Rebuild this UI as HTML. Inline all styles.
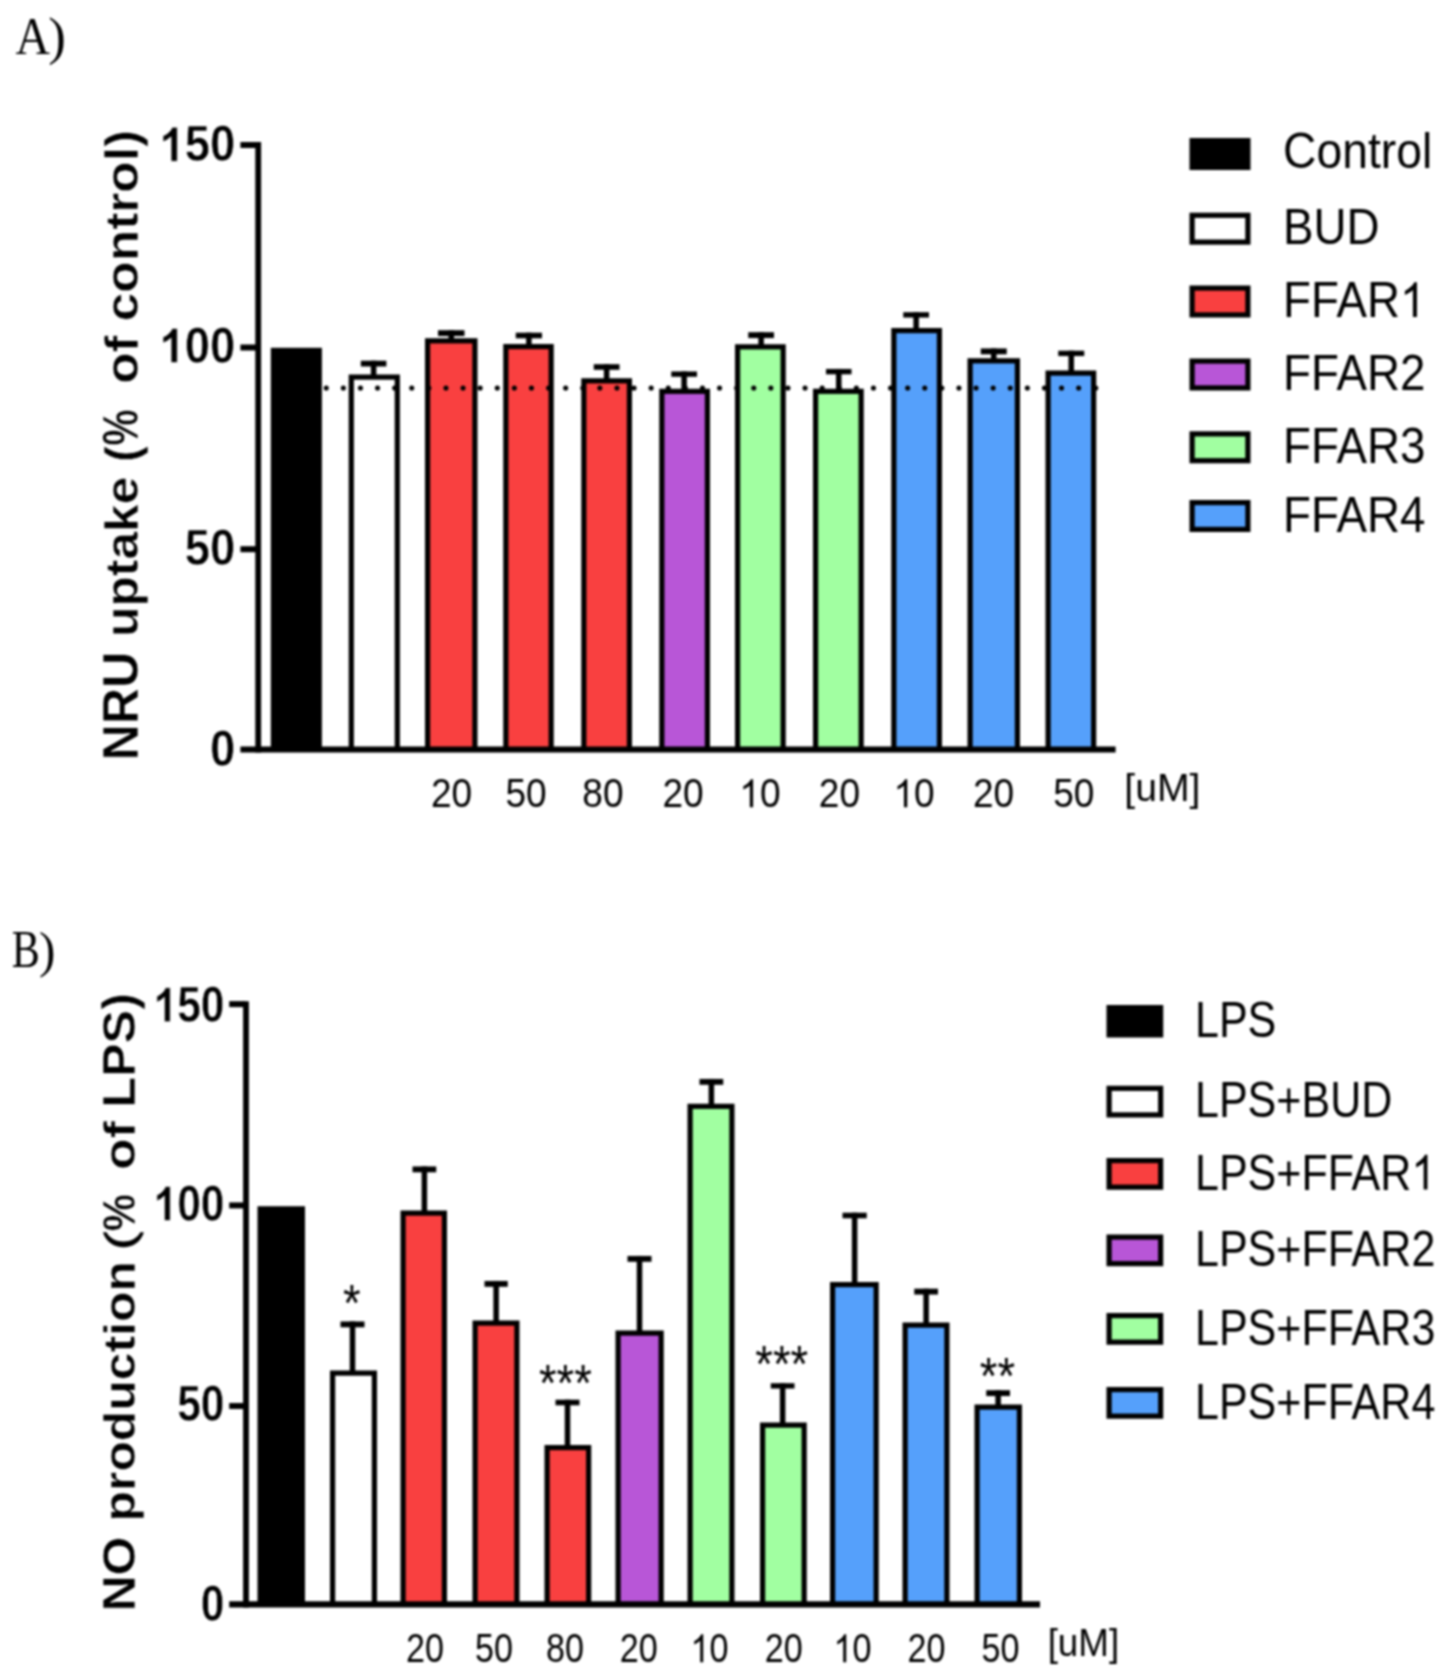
<!DOCTYPE html>
<html><head><meta charset="utf-8"><title>Figure</title>
<style>
html,body{margin:0;padding:0;background:#fff;}
body{width:1449px;height:1679px;overflow:hidden;font-family:"Liberation Sans",sans-serif;}
svg{display:block;}

</style></head><body>
<svg width="1449" height="1679" viewBox="0 0 1449 1679">
<rect width="1449" height="1679" style="fill:#fff"/>
<defs><clipPath id="ca"><rect x="0" y="0" width="1449" height="751"/></clipPath><clipPath id="cb"><rect x="0" y="900" width="1449" height="706"/></clipPath></defs>
<g style="filter:blur(0.85px)">
<g clip-path="url(#ca)">
<rect x="270.80" y="347.80" width="51.10" height="401.70" fill="#000"/>
<rect x="351.30" y="377.10" width="46.00" height="375.00" fill="#FFFFFF" stroke="#000" stroke-width="5.2"/>
<rect x="360.80" y="360.70" width="25.60" height="5.80" fill="#000"/><rect x="370.85" y="360.70" width="5.50" height="14.80" fill="#000"/>
<rect x="427.60" y="340.85" width="47.30" height="411.25" fill="#F94040" stroke="#000" stroke-width="5.2"/>
<rect x="438.00" y="330.20" width="26.50" height="5.85" fill="#000"/><rect x="448.50" y="330.20" width="5.50" height="9.05" fill="#000"/>
<rect x="505.85" y="346.60" width="45.30" height="405.50" fill="#F94040" stroke="#000" stroke-width="5.2"/>
<rect x="515.75" y="332.70" width="26.25" height="5.60" fill="#000"/><rect x="526.12" y="332.70" width="5.50" height="12.30" fill="#000"/>
<rect x="583.85" y="380.85" width="45.55" height="371.25" fill="#F94040" stroke="#000" stroke-width="5.2"/>
<rect x="593.75" y="364.20" width="25.75" height="5.60" fill="#000"/><rect x="603.88" y="364.20" width="5.50" height="15.05" fill="#000"/>
<rect x="661.85" y="391.35" width="45.55" height="360.75" fill="#B856D7" stroke="#000" stroke-width="5.2"/>
<rect x="671.25" y="371.45" width="25.75" height="5.35" fill="#000"/><rect x="681.38" y="371.45" width="5.50" height="18.30" fill="#000"/>
<rect x="737.60" y="346.85" width="45.55" height="405.25" fill="#A1FFA1" stroke="#000" stroke-width="5.2"/>
<rect x="748.25" y="332.20" width="25.75" height="5.85" fill="#000"/><rect x="758.38" y="332.20" width="5.50" height="13.05" fill="#000"/>
<rect x="815.60" y="391.35" width="45.55" height="360.75" fill="#A1FFA1" stroke="#000" stroke-width="5.2"/>
<rect x="826.00" y="368.95" width="25.50" height="5.35" fill="#000"/><rect x="836.00" y="368.95" width="5.50" height="20.80" fill="#000"/>
<rect x="893.85" y="330.60" width="45.55" height="421.50" fill="#55A0FB" stroke="#000" stroke-width="5.2"/>
<rect x="903.25" y="312.20" width="25.75" height="5.35" fill="#000"/><rect x="913.38" y="312.20" width="5.50" height="16.80" fill="#000"/>
<rect x="970.10" y="360.85" width="47.30" height="391.25" fill="#55A0FB" stroke="#000" stroke-width="5.2"/>
<rect x="980.75" y="348.45" width="26.00" height="5.85" fill="#000"/><rect x="991.00" y="348.45" width="5.50" height="10.80" fill="#000"/>
<rect x="1048.10" y="373.10" width="45.55" height="379.00" fill="#55A0FB" stroke="#000" stroke-width="5.2"/>
<rect x="1058.25" y="350.70" width="26.00" height="5.35" fill="#000"/><rect x="1068.50" y="350.70" width="5.50" height="20.80" fill="#000"/>
</g>
<line x1="326.25" y1="388" x2="1095.85" y2="388" stroke="#000" stroke-width="5.1" stroke-linecap="round" stroke-dasharray="0.01 17.09"/>
<rect x="255.3" y="142" width="5.8" height="610.5"/>
<rect x="240.4" y="746.5" width="875.2" height="6"/>
<rect x="240.4" y="142.00" width="17" height="6"/>
<rect x="240.4" y="344.50" width="17" height="6"/>
<rect x="240.4" y="546.20" width="17" height="6"/>
<rect x="1189.5" y="138" width="61" height="32"/>
<rect x="1192.10" y="215.30" width="55.80" height="26.80" fill="#FFFFFF" stroke="#000" stroke-width="5.2"/>
<rect x="1192.10" y="288.10" width="55.80" height="26.80" fill="#F94040" stroke="#000" stroke-width="5.2"/>
<rect x="1192.10" y="361.10" width="55.80" height="26.80" fill="#B856D7" stroke="#000" stroke-width="5.2"/>
<rect x="1192.10" y="433.90" width="55.80" height="26.80" fill="#A1FFA1" stroke="#000" stroke-width="5.2"/>
<rect x="1192.10" y="502.60" width="55.80" height="26.80" fill="#55A0FB" stroke="#000" stroke-width="5.2"/>
<g clip-path="url(#cb)">
<rect x="257.50" y="1206.25" width="47.50" height="398.15" fill="#000"/>
<rect x="332.60" y="1373.10" width="41.80" height="233.90" fill="#FFFFFF" stroke="#000" stroke-width="5.2"/>
<rect x="340.50" y="1321.45" width="24.00" height="5.85" fill="#000"/><rect x="349.75" y="1321.45" width="5.50" height="50.05" fill="#000"/>
<rect x="403.10" y="1213.10" width="41.30" height="393.90" fill="#F94040" stroke="#000" stroke-width="5.2"/>
<rect x="412.50" y="1166.45" width="23.75" height="5.85" fill="#000"/><rect x="421.62" y="1166.45" width="5.50" height="45.05" fill="#000"/>
<rect x="475.10" y="1323.10" width="41.80" height="283.90" fill="#F94040" stroke="#000" stroke-width="5.2"/>
<rect x="484.50" y="1280.95" width="23.25" height="5.85" fill="#000"/><rect x="493.38" y="1280.95" width="5.50" height="40.55" fill="#000"/>
<rect x="547.10" y="1447.60" width="41.55" height="159.40" fill="#F94040" stroke="#000" stroke-width="5.2"/>
<rect x="555.50" y="1399.70" width="24.00" height="5.60" fill="#000"/><rect x="564.75" y="1399.70" width="5.50" height="46.30" fill="#000"/>
<rect x="618.10" y="1333.10" width="43.05" height="273.90" fill="#B856D7" stroke="#000" stroke-width="5.2"/>
<rect x="627.50" y="1255.95" width="24.00" height="5.85" fill="#000"/><rect x="636.75" y="1255.95" width="5.50" height="75.55" fill="#000"/>
<rect x="690.10" y="1106.35" width="41.80" height="500.65" fill="#A1FFA1" stroke="#000" stroke-width="5.2"/>
<rect x="699.50" y="1078.95" width="23.75" height="5.85" fill="#000"/><rect x="708.62" y="1078.95" width="5.50" height="25.80" fill="#000"/>
<rect x="762.60" y="1425.10" width="41.55" height="181.90" fill="#A1FFA1" stroke="#000" stroke-width="5.2"/>
<rect x="770.75" y="1383.20" width="23.75" height="5.35" fill="#000"/><rect x="779.88" y="1383.20" width="5.50" height="40.30" fill="#000"/>
<rect x="832.60" y="1284.60" width="43.55" height="322.40" fill="#55A0FB" stroke="#000" stroke-width="5.2"/>
<rect x="842.50" y="1212.70" width="24.25" height="5.60" fill="#000"/><rect x="851.88" y="1212.70" width="5.50" height="70.30" fill="#000"/>
<rect x="905.10" y="1325.10" width="41.80" height="281.90" fill="#55A0FB" stroke="#000" stroke-width="5.2"/>
<rect x="914.25" y="1288.70" width="23.75" height="5.85" fill="#000"/><rect x="923.38" y="1288.70" width="5.50" height="34.80" fill="#000"/>
<rect x="977.10" y="1407.10" width="42.30" height="199.90" fill="#55A0FB" stroke="#000" stroke-width="5.2"/>
<rect x="986.25" y="1390.20" width="23.75" height="5.85" fill="#000"/><rect x="995.38" y="1390.20" width="5.50" height="15.30" fill="#000"/>
</g>
<rect x="243.1" y="1001.25" width="5.8" height="606.25"/>
<rect x="229.2" y="1601.25" width="810.8" height="6.25"/>
<rect x="229.2" y="1001.10" width="16" height="6"/>
<rect x="229.2" y="1202.40" width="16" height="6"/>
<rect x="229.2" y="1403.00" width="16" height="6"/>
<rect x="1106.5" y="1005" width="56.75" height="32.5"/>
<rect x="1109.10" y="1088.35" width="51.55" height="26.55" fill="#FFFFFF" stroke="#000" stroke-width="5.2"/>
<rect x="1109.10" y="1160.60" width="51.55" height="26.55" fill="#F94040" stroke="#000" stroke-width="5.2"/>
<rect x="1109.10" y="1237.10" width="51.55" height="26.55" fill="#B856D7" stroke="#000" stroke-width="5.2"/>
<rect x="1109.10" y="1315.60" width="51.55" height="26.55" fill="#A1FFA1" stroke="#000" stroke-width="5.2"/>
<rect x="1109.10" y="1389.60" width="51.55" height="26.55" fill="#55A0FB" stroke="#000" stroke-width="5.2"/>
</g>
<g style="filter:blur(1px)">
<text transform="translate(235.20,161.30) scale(0.9500,1.0300)" font-family="'Liberation Sans', sans-serif" font-size="47.8" font-weight="bold" text-anchor="end" stroke="#fff" stroke-width="0.6">50</text><path transform="translate(159.44,161.30) scale(0.02217,-0.02311)" d="M806 0H525V1059Q371 915 162 846V1101Q272 1137 401 1237.5Q530 1338 578 1472H806Z" stroke="#fff" stroke-width="27.1"/>
<text transform="translate(235.20,362.50) scale(0.9500,1.0300)" font-family="'Liberation Sans', sans-serif" font-size="47.8" font-weight="bold" text-anchor="end" stroke="#fff" stroke-width="0.6">00</text><path transform="translate(159.44,362.50) scale(0.02217,-0.02311)" d="M806 0H525V1059Q371 915 162 846V1101Q272 1137 401 1237.5Q530 1338 578 1472H806Z" stroke="#fff" stroke-width="27.1"/>
<text transform="translate(235.20,564.80) scale(0.9500,1.0300)" font-family="'Liberation Sans', sans-serif" font-size="47.8" font-weight="bold" text-anchor="end" stroke="#fff" stroke-width="0.6">50</text>
<text transform="translate(235.20,766.30) scale(0.9500,1.0300)" font-family="'Liberation Sans', sans-serif" font-size="47.8" font-weight="bold" text-anchor="end" stroke="#fff" stroke-width="0.6">0</text>
<text transform="translate(137.90,760.50) rotate(-90) scale(1.0040,1.0000)" font-family="'Liberation Sans', sans-serif" font-size="50" font-weight="bold" stroke="#fff" stroke-width="0.6">NRU</text>
<text transform="translate(137.90,637.00) rotate(-90) scale(0.9960,0.9400)" font-family="'Liberation Sans', sans-serif" font-size="50" font-weight="bold" stroke="#fff" stroke-width="0.6">uptake</text>
<text transform="translate(137.90,462.00) rotate(-90) scale(0.9600,0.9400)" font-family="'Liberation Sans', sans-serif" font-size="50" font-weight="bold" stroke="#fff" stroke-width="0.6">(</text>
<text transform="translate(137.90,445.80) rotate(-90) scale(0.8170,1.0000)" font-family="'Liberation Sans', sans-serif" font-size="50" font-weight="bold" stroke="#fff" stroke-width="0.6">%</text>
<text transform="translate(137.90,383.75) rotate(-90) scale(1.0240,0.9400)" font-family="'Liberation Sans', sans-serif" font-size="50" font-weight="bold" stroke="#fff" stroke-width="0.6">of</text>
<text transform="translate(137.90,321.30) rotate(-90) scale(1.0290,0.9400)" font-family="'Liberation Sans', sans-serif" font-size="50" font-weight="bold" stroke="#fff" stroke-width="0.6">control)</text>
<text transform="translate(451.50,807.20) scale(0.9150,1.0000)" font-family="'Liberation Sans', sans-serif" font-size="40.5" text-anchor="middle" >20</text>
<text transform="translate(526.00,807.20) scale(0.9150,1.0000)" font-family="'Liberation Sans', sans-serif" font-size="40.5" text-anchor="middle" >50</text>
<text transform="translate(602.90,807.20) scale(0.9150,1.0000)" font-family="'Liberation Sans', sans-serif" font-size="40.5" text-anchor="middle" >80</text>
<text transform="translate(683.10,807.20) scale(0.9150,1.0000)" font-family="'Liberation Sans', sans-serif" font-size="40.5" text-anchor="middle" >20</text>
<path transform="translate(739.29,807.20) scale(0.01809,-0.01901)" d="M763 0H583V1147Q518 1085 412.5 1023Q307 961 223 930V1104Q374 1175 487 1276Q600 1377 647 1472H763Z"/><text transform="translate(759.90,807.20) scale(0.9150,1.0000)" font-family="'Liberation Sans', sans-serif" font-size="40.5" >0</text>
<text transform="translate(839.40,807.20) scale(0.9150,1.0000)" font-family="'Liberation Sans', sans-serif" font-size="40.5" text-anchor="middle" >20</text>
<path transform="translate(893.44,807.20) scale(0.01809,-0.01901)" d="M763 0H583V1147Q518 1085 412.5 1023Q307 961 223 930V1104Q374 1175 487 1276Q600 1377 647 1472H763Z"/><text transform="translate(914.05,807.20) scale(0.9150,1.0000)" font-family="'Liberation Sans', sans-serif" font-size="40.5" >0</text>
<text transform="translate(993.50,807.20) scale(0.9150,1.0000)" font-family="'Liberation Sans', sans-serif" font-size="40.5" text-anchor="middle" >20</text>
<text transform="translate(1073.75,807.20) scale(0.9150,1.0000)" font-family="'Liberation Sans', sans-serif" font-size="40.5" text-anchor="middle" >50</text>
<text transform="translate(1162.40,800.80) scale(1.0050,1.0000)" font-family="'Liberation Sans', sans-serif" font-size="39" text-anchor="middle" >[uM]</text>
<text transform="translate(1283.10,167.60) scale(0.9160,1.0000)" font-family="'Liberation Sans', sans-serif" font-size="50.5" >Control</text>
<text transform="translate(1283.10,244.30) scale(0.9050,1.0000)" font-family="'Liberation Sans', sans-serif" font-size="50.5" >BUD</text>
<text transform="translate(1283.10,317.10) scale(0.9050,1.0000)" font-family="'Liberation Sans', sans-serif" font-size="50.5" >FFAR</text>
<path transform="translate(1399.91,317.10) scale(0.02232,-0.02370)" d="M763 0H583V1147Q518 1085 412.5 1023Q307 961 223 930V1104Q374 1175 487 1276Q600 1377 647 1472H763Z"/>
<text transform="translate(1283.10,390.10) scale(0.9050,1.0000)" font-family="'Liberation Sans', sans-serif" font-size="50.5" >FFAR2</text>
<text transform="translate(1283.10,462.90) scale(0.9050,1.0000)" font-family="'Liberation Sans', sans-serif" font-size="50.5" >FFAR3</text>
<text transform="translate(1283.10,531.60) scale(0.9050,1.0000)" font-family="'Liberation Sans', sans-serif" font-size="50.5" >FFAR4</text>
<text transform="translate(15.60,54.20) scale(0.9360,1.0200)" font-family="'Liberation Serif', serif" font-size="51" >A</text>
<text transform="translate(48.30,54.40) scale(1.0400,1.0150)" font-family="'Liberation Serif', serif" font-size="51" >)</text>
<text transform="translate(224.50,1021.70) scale(0.8900,1.0300)" font-family="'Liberation Sans', sans-serif" font-size="47.8" font-weight="bold" text-anchor="end" stroke="#fff" stroke-width="0.6">50</text><path transform="translate(153.52,1021.70) scale(0.02077,-0.02311)" d="M806 0H525V1059Q371 915 162 846V1101Q272 1137 401 1237.5Q530 1338 578 1472H806Z" stroke="#fff" stroke-width="28.9"/>
<text transform="translate(224.50,1220.50) scale(0.8900,1.0300)" font-family="'Liberation Sans', sans-serif" font-size="47.8" font-weight="bold" text-anchor="end" stroke="#fff" stroke-width="0.6">00</text><path transform="translate(153.52,1220.50) scale(0.02077,-0.02311)" d="M806 0H525V1059Q371 915 162 846V1101Q272 1137 401 1237.5Q530 1338 578 1472H806Z" stroke="#fff" stroke-width="28.9"/>
<text transform="translate(224.50,1420.90) scale(0.8900,1.0300)" font-family="'Liberation Sans', sans-serif" font-size="47.8" font-weight="bold" text-anchor="end" stroke="#fff" stroke-width="0.6">50</text>
<text transform="translate(224.50,1621.30) scale(0.8900,1.0300)" font-family="'Liberation Sans', sans-serif" font-size="47.8" font-weight="bold" text-anchor="end" stroke="#fff" stroke-width="0.6">0</text>
<text transform="translate(134.90,1611.60) rotate(-90) scale(1.0000,0.9300)" font-family="'Liberation Sans', sans-serif" font-size="50" font-weight="bold" stroke="#fff" stroke-width="0.6">NO</text>
<text transform="translate(134.90,1521.50) rotate(-90) scale(0.9980,0.8750)" font-family="'Liberation Sans', sans-serif" font-size="50" font-weight="bold" stroke="#fff" stroke-width="0.6">production</text>
<text transform="translate(134.90,1231.20) rotate(-90) scale(0.8370,0.9300)" font-family="'Liberation Sans', sans-serif" font-size="50" font-weight="bold" stroke="#fff" stroke-width="0.6">%</text>
<text transform="translate(134.90,1169.90) rotate(-90) scale(1.0360,0.8750)" font-family="'Liberation Sans', sans-serif" font-size="50" font-weight="bold" stroke="#fff" stroke-width="0.6">of</text>
<text transform="translate(134.90,1107.80) rotate(-90) scale(1.0080,0.9100)" font-family="'Liberation Sans', sans-serif" font-size="50" font-weight="bold" stroke="#fff" stroke-width="0.6">LPS)</text>
<path d="M102.9,1232.3 C109,1252.3 138,1252.3 143.9,1232.3 L140.2,1232.3 C134.6,1244.6 112.2,1244.6 106.6,1232.3 Z"/>
<text transform="translate(425.00,1662.20) scale(0.8430,1.0000)" font-family="'Liberation Sans', sans-serif" font-size="40.5" text-anchor="middle" >20</text>
<text transform="translate(494.10,1662.20) scale(0.8430,1.0000)" font-family="'Liberation Sans', sans-serif" font-size="40.5" text-anchor="middle" >50</text>
<text transform="translate(565.10,1662.20) scale(0.8430,1.0000)" font-family="'Liberation Sans', sans-serif" font-size="40.5" text-anchor="middle" >80</text>
<text transform="translate(638.75,1662.20) scale(0.8430,1.0000)" font-family="'Liberation Sans', sans-serif" font-size="40.5" text-anchor="middle" >20</text>
<path transform="translate(690.51,1662.20) scale(0.01667,-0.01901)" d="M763 0H583V1147Q518 1085 412.5 1023Q307 961 223 930V1104Q374 1175 487 1276Q600 1377 647 1472H763Z"/><text transform="translate(709.50,1662.20) scale(0.8430,1.0000)" font-family="'Liberation Sans', sans-serif" font-size="40.5" >0</text>
<text transform="translate(783.75,1662.20) scale(0.8430,1.0000)" font-family="'Liberation Sans', sans-serif" font-size="40.5" text-anchor="middle" >20</text>
<path transform="translate(833.51,1662.20) scale(0.01667,-0.01901)" d="M763 0H583V1147Q518 1085 412.5 1023Q307 961 223 930V1104Q374 1175 487 1276Q600 1377 647 1472H763Z"/><text transform="translate(852.50,1662.20) scale(0.8430,1.0000)" font-family="'Liberation Sans', sans-serif" font-size="40.5" >0</text>
<text transform="translate(926.60,1662.20) scale(0.8430,1.0000)" font-family="'Liberation Sans', sans-serif" font-size="40.5" text-anchor="middle" >20</text>
<text transform="translate(1000.50,1662.20) scale(0.8430,1.0000)" font-family="'Liberation Sans', sans-serif" font-size="40.5" text-anchor="middle" >50</text>
<text transform="translate(1083.40,1655.60) scale(0.9430,1.0000)" font-family="'Liberation Sans', sans-serif" font-size="39" text-anchor="middle" >[uM]</text>
<text transform="translate(351.90,1321.20) scale(0.8100,0.9300)" font-family="'Liberation Sans', sans-serif" font-size="56" text-anchor="middle" >*</text>
<text transform="translate(565.40,1401.20) scale(0.8100,0.9300)" font-family="'Liberation Sans', sans-serif" font-size="56" text-anchor="middle" >***</text>
<text transform="translate(781.75,1382.40) scale(0.8100,0.9300)" font-family="'Liberation Sans', sans-serif" font-size="56" text-anchor="middle" >***</text>
<text transform="translate(997.40,1394.40) scale(0.8100,0.9300)" font-family="'Liberation Sans', sans-serif" font-size="56" text-anchor="middle" >**</text>
<text transform="translate(1195.00,1037.10) scale(0.8520,1.0000)" font-family="'Liberation Sans', sans-serif" font-size="50.5" >LPS</text>
<text transform="translate(1195.00,1117.35) scale(0.8520,1.0000)" font-family="'Liberation Sans', sans-serif" font-size="50.5" >LPS+BUD</text>
<text transform="translate(1195.00,1189.60) scale(0.8520,1.0000)" font-family="'Liberation Sans', sans-serif" font-size="50.5" >LPS+FFAR</text>
<path transform="translate(1411.41,1189.60) scale(0.02101,-0.02370)" d="M763 0H583V1147Q518 1085 412.5 1023Q307 961 223 930V1104Q374 1175 487 1276Q600 1377 647 1472H763Z"/>
<text transform="translate(1195.00,1266.10) scale(0.8520,1.0000)" font-family="'Liberation Sans', sans-serif" font-size="50.5" >LPS+FFAR2</text>
<text transform="translate(1195.00,1344.60) scale(0.8520,1.0000)" font-family="'Liberation Sans', sans-serif" font-size="50.5" >LPS+FFAR3</text>
<text transform="translate(1195.00,1418.60) scale(0.8520,1.0000)" font-family="'Liberation Sans', sans-serif" font-size="50.5" >LPS+FFAR4</text>
<text transform="translate(11.70,967.30) scale(0.8260,1.0200)" font-family="'Liberation Serif', serif" font-size="51" >B</text>
<text transform="translate(39.10,967.00) scale(0.9700,1.0100)" font-family="'Liberation Serif', serif" font-size="51" >)</text>
</g>
</svg>
</body></html>
